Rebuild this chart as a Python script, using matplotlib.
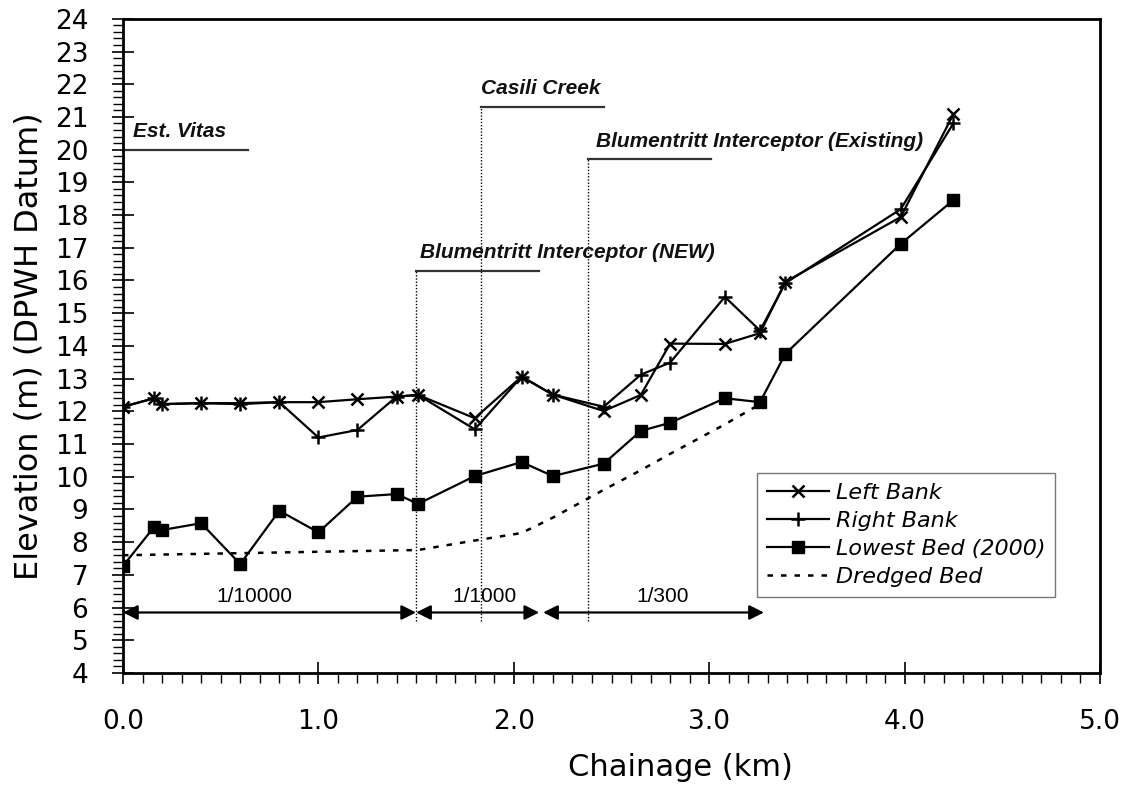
import matplotlib
matplotlib.use("Agg")
import matplotlib.pyplot as plt
from matplotlib.ticker import MultipleLocator

# chainage (km) of surveyed cross sections
chainage = [0.0, 0.16, 0.20, 0.40, 0.60, 0.80, 1.00, 1.20, 1.40, 1.51,
            1.80, 2.04, 2.20, 2.46, 2.65, 2.80, 3.08, 3.26, 3.39, 3.98, 4.25]
left_bank = [12.14, 12.40, 12.22, 12.25, 12.25, 12.28, 12.28, 12.37, 12.45, 12.50,
             11.79, 13.06, 12.51, 12.01, 12.50, 14.07, 14.06, 14.39, 15.96, 17.94, 21.09]
right_bank = [12.14, 12.40, 12.22, 12.25, 12.22, 12.28, 11.20, 11.43, 12.45, 12.50,
              11.45, 13.06, 12.51, 12.14, 13.12, 13.49, 15.50, 14.47, 15.92, 18.18, 20.81]
lowest_bed = [7.27, 8.47, 8.37, 8.58, 7.33, 8.96, 8.30, 9.39, 9.47, 9.17,
              10.02, 10.45, 10.02, 10.40, 11.40, 11.65, 12.40, 12.28, 13.76, 17.12, 18.46]

dredged_x = [0.0, 1.51, 1.80, 2.04, 2.20, 2.46, 2.65, 2.80, 3.08, 3.26]
dredged_y = [7.60, 7.76, 8.05, 8.28, 8.75, 9.60, 10.20, 10.70, 11.60, 12.22]

# landmarks: name, chainage, line level, line end
landmarks = ["Est. Vitas", "Casili Creek", "Blumentritt Interceptor (NEW)",
             "Blumentritt Interceptor (Existing)"]
landmark_x = [0.0, 1.83, 1.50, 2.38]
landmark_level = [20.0, 21.3, 16.3, 19.7]
landmark_end = [0.64, 2.46, 2.13, 3.01]
landmark_text_x = [0.05, 1.83, 1.52, 2.42]

# bed slope sections
slopes = ["1/10000", "1/1000", "1/300"]
slope_start = [0.0, 1.50, 2.15]
slope_end = [1.50, 2.13, 3.28]
slope_text_x = [0.67, 1.85, 2.76]
slope_level = 5.85

fig = plt.figure(figsize=(11.21, 7.94), dpi=100)
ax = fig.add_axes([0.1097, 0.1524, 0.8716, 0.8239])

ax.plot(chainage, left_bank, color="black", lw=1.6, marker="x", ms=8, mew=1.8,
        label="Left Bank", zorder=4)
ax.plot(chainage, right_bank, color="black", lw=1.6, marker="+", ms=10, mew=1.8,
        label="Right Bank", zorder=4)
ax.plot(chainage, lowest_bed, color="black", lw=1.6, marker="s", ms=8,
        label="Lowest Bed (2000)", zorder=4)
ax.plot(dredged_x, dredged_y, color="black", lw=1.8, linestyle=(0, (2.2, 3.2)),
        label="Dredged Bed", zorder=3)

for name, x, lev, end, tx in zip(landmarks, landmark_x, landmark_level,
                                 landmark_end, landmark_text_x):
    ax.plot([x, end], [lev, lev], color="#333333", lw=1.6, zorder=2)
    ax.plot([x, x], [5.6, lev], color="black", lw=1.0, linestyle=(0, (1, 1.3)), zorder=2)
    ax.text(tx, lev + 0.56, name, fontsize=15, fontweight="bold", fontstyle="italic",
            family="Liberation Sans", va="center", ha="left", color="#111111")

for lab, s, e, tx in zip(slopes, slope_start, slope_end, slope_text_x):
    ax.annotate("", xy=(e, slope_level), xytext=(s, slope_level),
                arrowprops=dict(arrowstyle="<|-|>", color="black", lw=1.6,
                                mutation_scale=22, shrinkA=0, shrinkB=0))
    ax.text(tx, slope_level + 0.5, lab, fontsize=15, family="Liberation Sans",
            ha="center", va="center")

ax.set_xlim(0, 5)
ax.set_ylim(4, 24)
ax.xaxis.set_major_locator(MultipleLocator(1))
ax.xaxis.set_minor_locator(MultipleLocator(0.1))
ax.yaxis.set_major_locator(MultipleLocator(1))
ax.yaxis.set_minor_locator(MultipleLocator(0.2))
ax.set_xticklabels([f"{v:.1f}" for v in ax.get_xticks()])
ax.tick_params(which="major", direction="inout", length=16, width=1.2, labelsize=19)
ax.tick_params(which="minor", direction="out", length=7, width=1.0)
ax.tick_params(axis="x", which="major", pad=18)
ax.tick_params(axis="y", which="major", pad=17)
for sp in ax.spines.values():
    sp.set_linewidth(2)

ax.set_xlabel("Chainage (km)", fontsize=22)
ax.xaxis.set_label_coords(0.571, -0.122)
ax.set_ylabel("Elevation (m) (DPWH Datum)", fontsize=23)
ax.yaxis.set_label_coords(-0.08, 0.5)

leg = ax.legend(loc="upper left", bbox_to_anchor=(0.649, 0.306), frameon=True,
                fancybox=False, edgecolor="#555555", handlelength=2.8,
                prop={"family": "DejaVu Sans", "style": "italic", "size": 16},
                labelspacing=0.36, borderpad=0.45, handletextpad=0.3,
                borderaxespad=0)
leg.get_frame().set_linewidth(1.0)

fig.savefig("out.png", dpi=100)
